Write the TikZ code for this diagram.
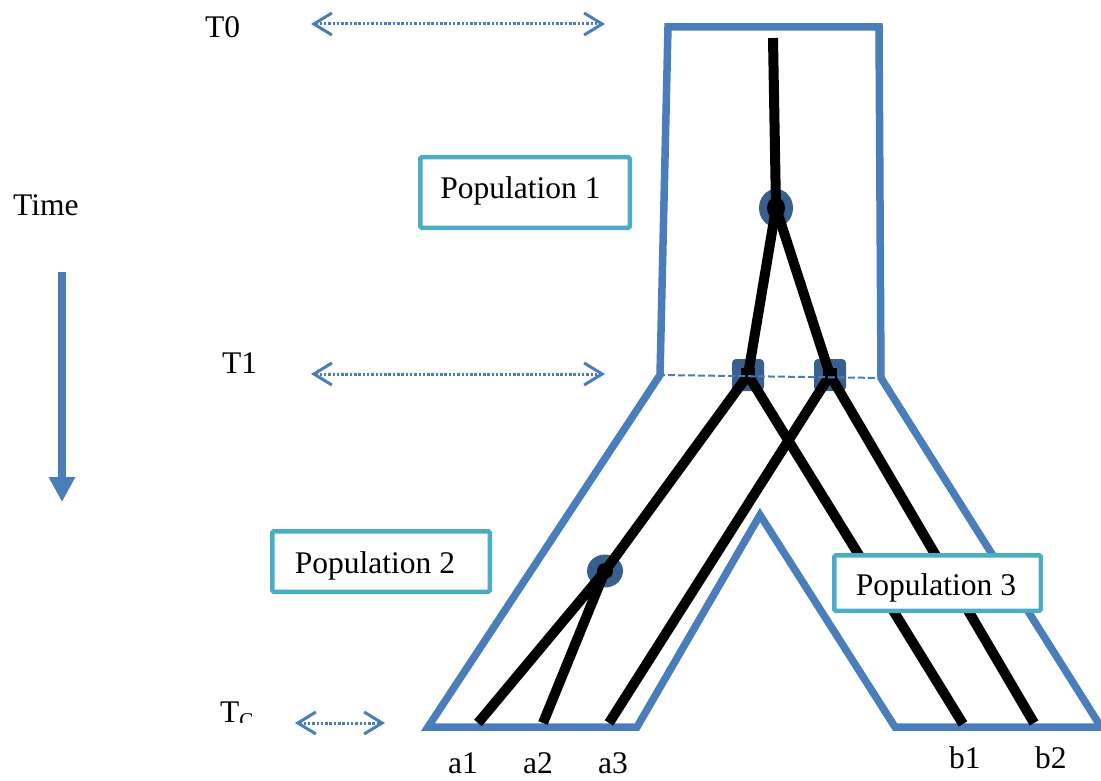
\documentclass[tikz,border=0pt]{standalone}
\usepackage{fontspec}
\setmainfont{Liberation Serif}
\usetikzlibrary{arrows.meta,shapes.geometric,calc}
\definecolor{popblue}{HTML}{4A7EBB}
\definecolor{nodeblue}{HTML}{3A5F8E}
\definecolor{boxcyan}{HTML}{4BACC6}
\begin{document}
\begin{tikzpicture}[x=1pt,y=-1pt,
  lbl/.style={font=\fontsize{31.5}{36}\selectfont, inner sep=0pt, anchor=base west},
  lblc/.style={font=\fontsize{31.5}{36}\selectfont, inner sep=0pt, anchor=base},
  popbox/.style={draw=boxcyan, line width=4.5pt, fill=white, rounded corners=1.5pt, inner sep=0pt},
  border/.style={draw=popblue, line width=7.5pt, line join=miter},
  lineage/.style={draw=black, line width=10pt},
  blob/.style={ellipse, fill=nodeblue, inner sep=0pt},
  sqnode/.style={rectangle, rounded corners=4pt, fill=nodeblue, minimum width=32pt, minimum height=32pt, inner sep=0pt},
  timearr/.style={draw=popblue, line width=3pt, dash pattern=on 2.5pt off 1.8pt,
     {Straight Barb[length=18pt,width=22pt]}-{Straight Barb[length=18pt,width=22pt]}},
  splitline/.style={draw=popblue, line width=2pt, dash pattern=on 7pt off 3pt},
  timeaxis/.style={draw=popblue, line width=8pt, -{Triangle[length=25pt,width=25pt]}}
]
\useasboundingbox (0,0) rectangle (1101,781);

% population outline
\draw[border] (660,375) -- (668,27) -- (879,27) -- (881,378) -- (1101,727)
  -- (895,727) -- (760,515) -- (637,727) -- (428,727) -- cycle;

% coalescent / split nodes
\node[blob, minimum width=34pt, minimum height=38pt] (c1) at (776,208) {};
\node[blob, minimum width=36pt, minimum height=33pt] (c2) at (605,571) {};
\node[sqnode] (s1) at (748,375) {};
\node[sqnode] (s2) at (830,375) {};

\coordinate (root) at (773,38);
\coordinate (a1) at (478,723);
\coordinate (a2) at (543,723);
\coordinate (a3) at (609,723);
\coordinate (b1) at (963,724);
\coordinate (b2) at (1034,723);

% lineages
\draw[lineage] (root) -- (c1.center);
\draw[lineage] (c1.center) -- (s1.center);
\draw[lineage] (c1.center) -- (s2.center);
\draw[lineage] (s1.center) -- (c2.center);
\draw[lineage] (c2.center) -- (a1);
\draw[lineage] (c2.center) -- (a2);
\draw[lineage] (s1.center) -- (b1);
\draw[lineage] (s2.center) -- (a3);
\draw[lineage] (s2.center) -- (b2);

% inner marks
\fill[black] (c1.center) ellipse [x radius=9pt, y radius=11pt];
\fill[black] (c2.center) circle [radius=8pt];
\fill[black] ($(s1.center)+(-7,-7.5)$) rectangle ($(s1.center)+(7,7.5)$);
\fill[black] ($(s2.center)+(-7,-7.5)$) rectangle ($(s2.center)+(7,7.5)$);

% split line at T1
\coordinate (t1l) at (658,375);
\coordinate (t1r) at (882,378);
\draw[splitline] (t1l) -- (t1r);

% population boxes
\node[popbox, minimum width=209.5pt, minimum height=70.5pt] (p1box) at (525,192.5) {};
\node[lblc] (p1) at (520.5,198) {Population 1};
\node[popbox, minimum width=217.5pt, minimum height=60.5pt] (p2box) at (381,561.5) {};
\node[lblc] (p2) at (375,573) {Population 2};
\node[popbox, minimum width=206.5pt, minimum height=55.5pt] (p3box) at (937.5,583) {};
\node[lblc] (p3) at (936,595) {Population 3};

% time labels
\node[lbl] (time) at (13,215) {Time};
\node[lbl] (t0) at (205,38) {T0};
\node[lbl] (t1) at (222,373) {T1};
\begin{scope}
  \clip (150,680) rectangle (300,722.5);
  \node[lbl] (tc) at (220,722) {T\raisebox{-5pt}{\fontsize{21}{24}\selectfont C}};
\end{scope}

% time arrows
\coordinate (t0a) at (311,24);
\coordinate (t0b) at (605,24);
\draw[timearr] (t0a) -- (t0b);
\coordinate (t1a) at (311,374);
\coordinate (t1b) at (605,374);
\draw[timearr] (t1a) -- (t1b);
\coordinate (tca) at (295,723);
\coordinate (tcb) at (385,723);
\draw[timearr] (tca) -- (tcb);

\coordinate (ttop) at (62,272);
\coordinate (tbot) at (62,502);
\draw[timeaxis] (ttop) -- (tbot);

% leaf labels
\node[lbl] (la1) at (448,773) {a1};
\node[lbl] (la2) at (523,773) {a2};
\node[lbl] (la3) at (598,773) {a3};
\node[lbl] (lb1) at (949,768) {b1};
\node[lbl] (lb2) at (1035,768) {b2};
\end{tikzpicture}
\end{document}
